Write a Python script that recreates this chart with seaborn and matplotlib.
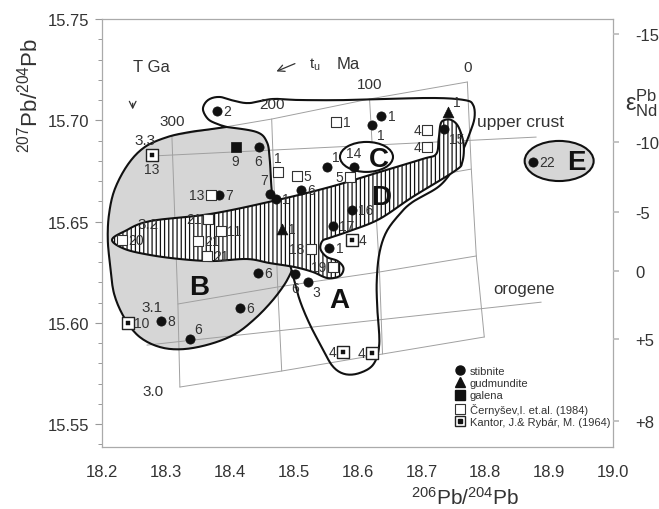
import numpy as np
import pandas as pd
import matplotlib
matplotlib.use("Agg")
import matplotlib.pyplot as plt
import seaborn as sns
from matplotlib.patches import Polygon, Ellipse
from matplotlib.lines import Line2D
from matplotlib.legend_handler import HandlerTuple

# ---------------- data ----------------
stib_x = [18.380, 18.445, 18.552, 18.6375, 18.623, 18.736, 18.594, 18.383, 18.4625, 18.472,
          18.511, 18.561, 18.591, 18.556, 18.444, 18.5016, 18.522, 18.292, 18.4156, 18.3375, 18.875]
stib_y = [15.7046, 15.6868, 15.6769, 15.7021, 15.6977, 15.6957, 15.6769, 15.6631, 15.6636, 15.6611,
          15.6656, 15.6478, 15.6557, 15.6369, 15.6246, 15.6241, 15.6201, 15.6009, 15.6073, 15.5920, 15.6794]
stib_lab = ["2", "6", "1", "1", "1", "15", "14", "7", "7", "1",
            "6", "17", "16", "1", "6", "6", "3", "8", "6", "6", "22"]

gud_x = [18.481, 18.742]
gud_y = [15.6463, 15.7041]
gud_lab = ["1", "1"]

gal_x = [18.409]
gal_y = [15.6868]
gal_lab = ["9"]

cer_x = [18.475, 18.505, 18.5875, 18.567, 18.709, 18.709, 18.370, 18.3656, 18.386, 18.350,
         18.364, 18.231, 18.5266, 18.561]
cer_y = [15.6744, 15.6725, 15.6720, 15.6991, 15.6952, 15.6868, 15.6631, 15.6512, 15.6453, 15.6404,
         15.6330, 15.6409, 15.6364, 15.6275]
cer_lab = ["1", "5", "5", "1", "4", "4", "13", "21", "11", "21", "21", "20", "18", "19"]

kan_x = [18.278, 18.2406, 18.592, 18.5766, 18.622]
kan_y = [15.6828, 15.6000, 15.6409, 15.5856, 15.5851]
kan_lab = ["13", "10", "4", "4", "4"]

# label placement codes (style, not data)
stib_pos = ["r", "b", "ur", "r", "br", "br", "a", "r", "al", "r",
            "r", "r", "r", "r", "r", "b", "br", "r", "r", "ur", "r"]
gud_pos = ["r", "ur"]
gal_pos = ["b"]
cer_pos = ["a", "r", "l", "r", "l", "l", "l", "l", "r", "r", "r", "r", "l", "l"]
kan_pos = ["b", "r", "r", "l", "l"]

# outlines (data coordinates)
outline_A = [(18.497, 15.6256), (18.509, 15.6117), (18.525, 15.5994), (18.544, 15.5880),
             (18.561, 15.5786), (18.580, 15.5747), (18.603, 15.5752), (18.625, 15.5796),
             (18.634, 15.5895), (18.631, 15.6068), (18.630, 15.6201), (18.634, 15.6340),
             (18.645, 15.6448), (18.666, 15.6537), (18.686, 15.6596), (18.728, 15.6675),
             (18.752, 15.6770), (18.766, 15.6860), (18.775, 15.6930), (18.783, 15.7010),
             (18.781, 15.7075), (18.767, 15.7100), (18.7125, 15.7110), (18.5875, 15.7100),
             (18.509, 15.7100), (18.467, 15.7105), (18.431, 15.7085), (18.408, 15.7095),
             (18.384, 15.7115), (18.366, 15.7100), (18.358, 15.7056), (18.366, 15.7006),
             (18.381, 15.6981), (18.395, 15.6967)]
outline_B = [(18.395, 15.6967), (18.373, 15.6957), (18.3375, 15.6942), (18.302, 15.6917),
             (18.267, 15.6868), (18.241, 15.6784), (18.220, 15.6660), (18.211, 15.6537),
             (18.209, 15.6414), (18.2125, 15.6290), (18.219, 15.6142), (18.236, 15.6019),
             (18.259, 15.5930), (18.291, 15.5880), (18.327, 15.5870), (18.369, 15.5895),
             (18.408, 15.5944), (18.439, 15.6019), (18.466, 15.6107), (18.486, 15.6191),
             (18.497, 15.6256)]
gray_edge = [(18.395, 15.6967), (18.442, 15.6942), (18.458, 15.6893), (18.4625, 15.6809),
             (18.466, 15.6646), (18.472, 15.6596), (18.485, 15.6400), (18.497, 15.6256)]
band_D = [(18.2156, 15.6409), (18.236, 15.6453), (18.275, 15.6502), (18.369, 15.6537),
          (18.467, 15.6601), (18.556, 15.6670), (18.634, 15.6744), (18.702, 15.6809),
          (18.723, 15.6833), (18.727, 15.6907), (18.730, 15.6981), (18.736, 15.7001),
          (18.747, 15.7001), (18.758, 15.6967), (18.766, 15.6883), (18.764, 15.6794),
          (18.752, 15.6749), (18.686, 15.6621), (18.634, 15.6512), (18.5875, 15.6453),
          (18.556, 15.6419), (18.545, 15.6404), (18.542, 15.6364), (18.552, 15.6325),
          (18.569, 15.6305), (18.578, 15.6270), (18.572, 15.6231), (18.553, 15.6221),
          (18.530, 15.6251), (18.502, 15.6275), (18.4625, 15.6295), (18.427, 15.6315),
          (18.373, 15.6305), (18.322, 15.6315), (18.275, 15.6335), (18.236, 15.6364)]
ellipse_C = (18.614, 15.6819, 0.083, 0.0148)
ellipse_E = (18.9156, 15.6799, 0.108, 0.0198)

# model grid: rows = T (3.3, 3.2, 3.1, 3.0 Ga), columns = t (300, 200, 100, 0 Ma)
grid_T = ["3.3", "3.2", "3.1", "3.0"]
grid_t = ["300", "200", "100", "0"]
grid_x = [[18.3094, 18.4656, 18.6188, 18.7719],
          [18.3141, 18.4703, 18.6266, 18.7781],
          [18.3188, 18.4750, 18.6344, 18.7859],
          [18.3219, 18.4813, 18.6391, 18.7984]]
grid_y = [[15.6922, 15.7006, 15.7105, 15.7189],
          [15.6507, 15.6591, 15.6675, 15.6759],
          [15.6093, 15.6177, 15.6251, 15.6330],
          [15.5683, 15.5762, 15.5846, 15.5930]]
upper_crust = [(18.275, 15.6823), (18.8797, 15.6917)]
orogene = [(18.2703, 15.5890), (18.8875, 15.6102)]

eps_labels = ["-15", "-10", "-5", "0", "+5", "+8"]
eps_y = [15.7426, 15.6893, 15.6547, 15.6256, 15.5920, 15.5515]

# ---------------- helpers ----------------
def _cr(P, n, closed):
    out = []
    t = np.linspace(0, 1, n, endpoint=False)[:, None]
    for i in range(1, len(P) - 2):
        p0, p1, p2, p3 = P[i - 1], P[i], P[i + 1], P[i + 2]
        out.append(0.5 * (2 * p1 + (-p0 + p2) * t + (2 * p0 - 5 * p1 + 4 * p2 - p3) * t ** 2
                          + (-p0 + 3 * p1 - 3 * p2 + p3) * t ** 3))
    if not closed:
        out.append(P[-2][None, :])
    return np.vstack(out)

def catmull(pts, n=10):
    P = np.asarray(pts, float)
    return _cr(np.vstack([P[0], P, P[-1]]), n, False)

def catmull_closed(pts, n=10):
    P = np.asarray(pts, float)
    return _cr(np.vstack([P[-1], P, P[0], P[1]]), n, True)

# ---------------- style ----------------
sns.set_theme(style="white")
plt.rcParams["font.family"] = ["Liberation Sans", "DejaVu Sans"]
plt.rcParams["mathtext.fontset"] = "custom"
plt.rcParams["mathtext.rm"] = "Liberation Sans"
plt.rcParams["mathtext.it"] = "Liberation Sans:italic"
plt.rcParams["mathtext.bf"] = "Liberation Sans:bold"
plt.rcParams["hatch.linewidth"] = 0.9
plt.rcParams["hatch.color"] = "#111111"

TXT = "#333333"
INK = "#111111"
GRID = "#a0a0a0"

fig = plt.figure(figsize=(6.59, 5.10), dpi=100)
ax = fig.add_axes([0.1548, 0.1216, 0.7755, 0.8392])
ax.set_xlim(18.2, 19.0)
ax.set_ylim(15.5387, 15.75)

# gray B region
Bs = catmull(outline_B)
Gs = catmull(gray_edge)
grayB = np.vstack([Bs, Gs[::-1]])
ax.add_patch(Polygon(grayB, closed=True, facecolor="#d6d6d6", edgecolor="none", zorder=1))

# grid lines
gx = np.array(grid_x); gy = np.array(grid_y)
for i in range(4):
    ax.plot(gx[i], gy[i], color=GRID, lw=0.7, zorder=2)
for j in range(4):
    ax.plot(gx[:, j], gy[:, j], color=GRID, lw=0.7, zorder=2)
for seg in (upper_crust, orogene):
    ax.plot([p[0] for p in seg], [p[1] for p in seg], color=GRID, lw=0.7, zorder=2)

# outlines
As = catmull(outline_A)
full = np.vstack([As, Bs[1:]])
ax.plot(full[:, 0], full[:, 1], color=INK, lw=1.5, zorder=3)
ax.plot(Gs[:, 0], Gs[:, 1], color=INK, lw=1.5, zorder=3)
Ds = catmull_closed(band_D, n=8)
ax.add_patch(Polygon(Ds, closed=True, facecolor="white", edgecolor=INK, hatch="||||",
                     lw=1.5, zorder=4))
ax.add_patch(Ellipse(ellipse_C[:2], ellipse_C[2], ellipse_C[3], facecolor="white",
                     edgecolor=INK, lw=1.5, zorder=4))
ax.add_patch(Ellipse(ellipse_E[:2], ellipse_E[2], ellipse_E[3], facecolor="#d6d6d6",
                     edgecolor=INK, lw=1.5, zorder=4))

# points with seaborn
sns.scatterplot(x=stib_x, y=stib_y, marker="o", s=44, color=INK, edgecolor=INK, linewidth=0.5, ax=ax, zorder=6)
sns.scatterplot(x=gud_x, y=gud_y, marker="^", s=60, color=INK, edgecolor=INK, linewidth=0.5, ax=ax, zorder=6)
sns.scatterplot(x=gal_x, y=gal_y, marker="s", s=55, color=INK, edgecolor=INK, linewidth=0.5, ax=ax, zorder=6)
sns.scatterplot(x=cer_x, y=cer_y, marker="s", s=50, color="white", edgecolor="#333333", linewidth=0.8, ax=ax, zorder=6)
sns.scatterplot(x=kan_x, y=kan_y, marker="s", s=70, color="white", edgecolor="#222222", linewidth=1.0, ax=ax, zorder=6)
sns.scatterplot(x=kan_x, y=kan_y, marker="s", s=8, color=INK, edgecolor=INK, linewidth=0.3, ax=ax, zorder=7)

POS = {"r": (4.5, 0, "left", "center"), "l": (-4.5, 0, "right", "center"),
       "b": (0, -5, "center", "top"), "a": (0, 5, "center", "bottom"),
       "ur": (3.5, 2, "left", "bottom"), "br": (3.5, -2, "left", "top"),
       "al": (-1, 5, "right", "bottom")}

def put_labels(xs, ys, labs, poss):
    for x, y, t, p in zip(xs, ys, labs, poss):
        dx, dy, ha, va = POS[p]
        ax.annotate(t, (x, y), xytext=(dx, dy), textcoords="offset points", ha=ha, va=va,
                    fontsize=10, color=TXT, zorder=8)

put_labels(stib_x, stib_y, stib_lab, stib_pos)
put_labels(gud_x, gud_y, gud_lab, gud_pos)
put_labels(gal_x, gal_y, gal_lab, gal_pos)
put_labels(cer_x, cer_y, cer_lab, cer_pos)
put_labels(kan_x, kan_y, kan_lab, kan_pos)

# grid labels
for i, lab in enumerate(grid_T):
    ax.annotate(lab, (gx[i, 0], gy[i, 0]), xytext=(-19, -2.5), textcoords="offset points",
                ha="center", va="center", fontsize=11, color=TXT, zorder=8)
for j, lab in enumerate(grid_t):
    ax.annotate(lab, (gx[0, j], gy[0, j]), xytext=(0, 6), textcoords="offset points",
                ha="center", va="bottom", fontsize=11, color=TXT, zorder=8)

# region letters and annotations
for lab, (x, y) in zip(["A", "B", "C", "D", "E"],
                       [(18.572, 15.6112), (18.3516, 15.6177), (18.634, 15.6809),
                        (18.6375, 15.6621), (18.942, 15.6794)]):
    ax.text(x, y, lab, fontsize=20, fontweight="bold", color=INK, ha="center", va="center", zorder=9)
ax.text(18.7875, 15.6996, "upper crust", fontsize=12.5, color=TXT, ha="left", va="center", zorder=8)
ax.text(18.861, 15.6167, "orogene", fontsize=12, color=TXT, ha="center", va="center", zorder=8)
ax.text(18.278, 15.7263, "T Ga", fontsize=12, color=TXT, ha="center", va="center", zorder=8)
ax.annotate("", xy=(18.248, 15.7040), xytext=(18.248, 15.7098),
            arrowprops=dict(arrowstyle="->", color=TXT, lw=0.9))
ax.text(18.533, 15.7278, r"t$_{\rm u}$", fontsize=11, color=TXT, ha="center", va="center", zorder=8)
ax.text(18.585, 15.7278, "Ma", fontsize=12, color=TXT, ha="center", va="center", zorder=8)
ax.annotate("", xy=(18.469, 15.7236), xytext=(18.506, 15.7285),
            arrowprops=dict(arrowstyle="->", color=TXT, lw=0.9))

# axes styling
xt = np.arange(18.2, 19.01, 0.1)
yt = np.arange(15.55, 15.751, 0.05)
ax.set_xticks(xt)
ax.set_xticks(np.arange(18.2, 19.01, 0.05), minor=True)
ax.set_yticks(yt)
ax.set_yticks(np.arange(15.54, 15.751, 0.01), minor=True)
ax.set_xticklabels([f"{v:.1f}" for v in xt])
ax.set_yticklabels([f"{v:.2f}" for v in yt])
ax.tick_params(which="both", direction="out", color="#999999", labelcolor=TXT, labelsize=12)
ax.tick_params(which="major", length=5, width=0.8, pad=4)
ax.tick_params(which="minor", length=3, width=0.7)
ax.tick_params(axis="x", pad=7)
for s in ax.spines.values():
    s.set_color("#aaaaaa"); s.set_linewidth(0.9)
ax.set_xlabel(""); ax.set_ylabel("")

ax2 = ax.twinx()
ax2.set_ylim(ax.get_ylim())
ax2.set_yticks(eps_y)
ax2.set_yticklabels(eps_labels)
ax2.tick_params(axis="y", direction="out", length=4, color="#bbbbbb", labelcolor=TXT, labelsize=12, pad=12)
for s in ax2.spines.values():
    s.set_visible(False)

fig.text(30 / 659, 1 - 95 / 510, r"$^{207}$Pb/$^{204}$Pb", rotation=90, ha="center", va="center",
         fontsize=16, color=TXT)
fig.text(465 / 659, 1 - 498 / 510, r"$^{206}$Pb/$^{204}$Pb", ha="center", va="center",
         fontsize=15, color=TXT)
fig.text(641 / 659, 1 - 103 / 510, r"$\mathrm{ε}^{\mathrm{Pb}}_{\mathrm{Nd}}$", ha="center", va="center",
         fontsize=17, color=TXT)

# legend
handles = [Line2D([], [], ls="", marker="o", ms=6.5, color=INK),
           Line2D([], [], ls="", marker="^", ms=7, color=INK),
           Line2D([], [], ls="", marker="s", ms=7, color=INK),
           Line2D([], [], ls="", marker="s", ms=7, mfc="white", mec="#333333", mew=0.8),
           (Line2D([], [], ls="", marker="s", ms=7.5, mfc="white", mec="#222222", mew=1.0),
            Line2D([], [], ls="", marker="s", ms=2.5, color=INK))]
labels = ["stibnite", "gudmundite", "galena", "Černyšev,I. et.al. (1984)", "Kantor, J.& Rybár, M. (1964)"]
leg = ax.legend(handles, labels, loc="upper left", bbox_to_anchor=(454 / 659, 1 - 367 / 510),
                bbox_transform=fig.transFigure, frameon=False, fontsize=8, handlelength=1.0,
                handletextpad=0.4, labelspacing=0.2, borderpad=0, borderaxespad=0,
                handler_map={tuple: HandlerTuple(ndivide=1, pad=0)})
for t in leg.get_texts():
    t.set_color(TXT)

fig.savefig("out.png", dpi=100)
